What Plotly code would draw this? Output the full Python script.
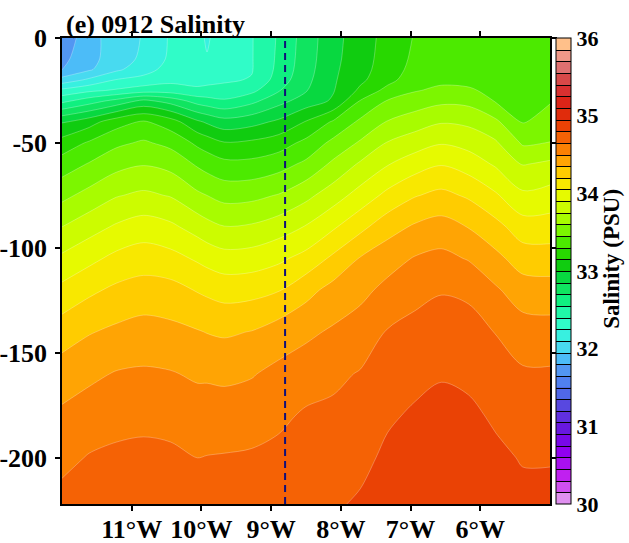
import plotly.graph_objects as go

# ---------------- data ----------------
lon = [-12.0, -11.61, -11.22, -10.83, -10.44, -10.06, -9.92, -9.67, -9.28, -8.89, -8.5,
       -8.11, -7.72, -7.33, -6.94, -6.56, -6.17, -5.78, -5.39, -5.0]
depth = [0, -10, -15, -20, -25, -30, -40, -50, -60, -75, -90, -105, -120,
         -140, -160, -180, -200, -222]

# salinity (PSU); one row per depth level, one value per longitude
salinity = [
    [31.70, 31.89, 32.03, 32.11, 32.27, 32.30, 32.23, 32.34, 32.39, 32.57, 32.77, 32.95, 33.08, 33.20, 33.31, 33.35, 33.37, 33.37, 33.36, 33.36],
    [31.76, 31.90, 32.03, 32.13, 32.28, 32.31, 32.26, 32.35, 32.39, 32.58, 32.78, 32.96, 33.09, 33.21, 33.33, 33.37, 33.38, 33.38, 33.37, 33.37],
    [31.79, 31.93, 32.07, 32.19, 32.31, 32.32, 32.34, 32.36, 32.39, 32.59, 32.79, 32.97, 33.10, 33.22, 33.35, 33.39, 33.40, 33.39, 33.38, 33.38],
    [32.01, 32.13, 32.26, 32.30, 32.36, 32.35, 32.36, 32.38, 32.41, 32.62, 32.81, 32.98, 33.12, 33.25, 33.39, 33.42, 33.43, 33.41, 33.39, 33.40],
    [32.29, 32.37, 32.42, 32.48, 32.48, 32.43, 32.44, 32.45, 32.51, 32.69, 32.84, 32.99, 33.18, 33.35, 33.44, 33.48, 33.46, 33.43, 33.40, 33.42],
    [32.51, 32.63, 32.75, 32.89, 32.79, 32.64, 32.61, 32.57, 32.66, 32.80, 32.92, 33.02, 33.31, 33.46, 33.52, 33.57, 33.56, 33.44, 33.42, 33.44],
    [32.99, 33.09, 33.24, 33.32, 33.22, 33.03, 32.98, 32.91, 32.95, 33.03, 33.16, 33.32, 33.48, 33.61, 33.68, 33.74, 33.72, 33.63, 33.44, 33.51],
    [33.21, 33.32, 33.42, 33.47, 33.41, 33.27, 33.23, 33.16, 33.18, 33.23, 33.34, 33.49, 33.62, 33.76, 33.83, 33.89, 33.85, 33.77, 33.58, 33.605],
    [33.37, 33.46, 33.55, 33.59, 33.55, 33.43, 33.39, 33.34, 33.34, 33.39, 33.48, 33.63, 33.77, 33.89, 33.98, 34.04, 33.98, 33.88, 33.74, 33.78],
    [33.56, 33.65, 33.74, 33.78, 33.74, 33.63, 33.60, 33.55, 33.56, 33.61, 33.71, 33.83, 33.96, 34.09, 34.19, 34.24, 34.18, 34.07, 33.93, 33.96],
    [33.75, 33.84, 33.92, 33.97, 33.93, 33.84, 33.80, 33.755, 33.77, 33.83, 33.91, 34.03, 34.16, 34.29, 34.37, 34.41, 34.345, 34.25, 34.12, 34.12],
    [33.93, 34.01, 34.09, 34.13, 34.10, 34.03, 34.00, 33.96, 33.97, 34.02, 34.10, 34.23, 34.36, 34.44, 34.51, 34.54, 34.49, 34.39, 34.28, 34.27],
    [34.09, 34.17, 34.23, 34.26, 34.25, 34.19, 34.17, 34.14, 34.15, 34.19, 34.30, 34.40, 34.46, 34.54, 34.60, 34.64, 34.62, 34.52, 34.42, 34.41],
    [34.28, 34.34, 34.38, 34.41, 34.39, 34.36, 34.345, 34.33, 34.355, 34.42, 34.47, 34.52, 34.57, 34.66, 34.70, 34.72, 34.71, 34.645, 34.57, 34.56],
    [34.42, 34.47, 34.51, 34.52, 34.51, 34.48, 34.48, 34.47, 34.49, 34.54, 34.58, 34.62, 34.66, 34.72, 34.76, 34.79, 34.77, 34.72, 34.67, 34.67],
    [34.53, 34.57, 34.60, 34.61, 34.60, 34.57, 34.57, 34.57, 34.58, 34.62, 34.67, 34.68, 34.71, 34.78, 34.82, 34.84, 34.83, 34.78, 34.73, 34.73],
    [34.61, 34.66, 34.68, 34.69, 34.68, 34.65, 34.655, 34.66, 34.67, 34.69, 34.73, 34.73, 34.76, 34.83, 34.86, 34.88, 34.87, 34.83, 34.79, 34.79],
    [34.70, 34.74, 34.77, 34.78, 34.76, 34.74, 34.74, 34.74, 34.75, 34.76, 34.78, 34.78, 34.82, 34.86, 34.89, 34.92, 34.91, 34.88, 34.84, 34.84],
]

section_lon = -8.8          # dashed vertical reference line
x_tickvals = [-11, -10, -9, -8, -7, -6]
x_ticktext = ["11°W", "10°W", "9°W", "8°W", "7°W", "6°W"]
y_tickvals = [0, -50, -100, -150, -200]
y_ticktext = ["0", "-50", "-100", "-150", "-200"]
cb_range = [30, 36]
cb_tickvals = [30, 31, 32, 33, 34, 35, 36]

# ---------------- style ----------------
palette = [
    "#E090F0", "#D050F0", "#C020F0", "#A810F0", "#9000F0", "#7808E8", "#6818E0", "#6030E0",
    "#5848E0", "#5068E8", "#5080F0", "#5296F2", "#4CBCF8", "#48DAF0", "#38F0E0", "#30FCC8",
    "#20F8A8", "#10F080", "#10E460", "#08D840", "#10CC10", "#28D800", "#4CEA00", "#7CF600",
    "#A8FC00", "#CCFC00", "#E6FA00", "#F8E800", "#FFCC00", "#FFA404", "#FB8003", "#F56205",
    "#EA4205", "#E02C0C", "#DC2418", "#D83030", "#D84848", "#E07070", "#F09888", "#FFC08A",
]
n = len(palette)
# colourscale for the filled contours (fills are sampled at band centres)
fill_scale = []
for k, c in enumerate(palette):
    lo = 0.0 if k == 0 else (k - 0.25) / (n - 1)
    hi = 1.0 if k == n - 1 else (k + 0.75) / (n - 1)
    fill_scale.append([lo, c])
    fill_scale.append([hi, c])
# stepped colourscale over [30, 36] for the colour bar
bar_scale = []
for k, c in enumerate(palette):
    bar_scale.append([k / n, c])
    bar_scale.append([(k + 1) / n, c])

contours = dict(start=30.15, end=35.85, size=0.15, coloring="fill", showlines=True)
FONT = "Liberation Serif"

fig = go.Figure()
fig.add_trace(go.Contour(
    x=lon, y=depth, z=salinity,
    autocontour=False, contours=contours,
    colorscale=fill_scale, showscale=False,
    line=dict(color="rgba(255,255,255,0.45)", width=0.6, smoothing=0.9),
    hoverinfo="skip",
))
# trace used only to draw the discrete colour bar (lies outside the axes ranges)
fig.add_trace(go.Contour(
    x=[100, 101], y=[500, 501], z=[[30, 36], [30, 36]],
    autocontour=False,
    contours=dict(start=30.15, end=35.85, size=0.15, coloring="heatmap", showlines=True),
    colorscale=bar_scale, zmin=cb_range[0], zmax=cb_range[1], showscale=True,
    line=dict(color="black", width=1),
    hoverinfo="skip",
    colorbar=dict(
        thickness=15, thicknessmode="pixels", len=1, lenmode="fraction",
        x=1.0123, xanchor="left", y=0.5, yanchor="middle", xpad=0, ypad=0,
        outlinewidth=1, outlinecolor="black",
        tickvals=cb_tickvals, ticks="",
        tickfont=dict(family=FONT, size=22, color="black", weight="bold"),
    ),
))

fig.add_shape(type="line", xref="x", yref="y",
              x0=section_lon, x1=section_lon, y0=depth[-1], y1=depth[0],
              line=dict(color="#10107A", width=2, dash="7px,5px"))

fig.add_annotation(text="(e) 0912 Salinity", xref="paper", yref="paper",
                   x=0.004, y=1.028, xanchor="left", yanchor="middle", showarrow=False,
                   font=dict(family=FONT, size=26, color="black", weight="bold"))
fig.add_annotation(text="Salinity (PSU)", xref="paper", yref="paper",
                   x=1.127, y=0.526, xanchor="center", yanchor="middle", showarrow=False,
                   textangle=-90,
                   font=dict(family=FONT, size=23, color="black", weight="bold"))

axis_common = dict(showline=True, linecolor="black", linewidth=1.5, mirror="ticks",
                   ticks="outside", ticklen=5, tickwidth=1.5, tickcolor="black",
                   showgrid=False, zeroline=False,
                   tickfont=dict(family=FONT, size=26, color="black", weight="bold"))
fig.update_xaxes(range=[lon[0], lon[-1]], tickvals=x_tickvals, ticktext=x_ticktext,
                 ticklabelstandoff=-4, **axis_common)
fig.update_yaxes(range=[depth[-1], depth[0]], tickvals=y_tickvals, ticktext=y_ticktext,
                 ticklabelstandoff=3, **axis_common)

fig.update_layout(width=629, height=543,
                  margin=dict(l=62, r=79, t=38, b=39, autoexpand=False),
                  paper_bgcolor="white", plot_bgcolor="white", showlegend=False)

fig.write_html("out.html")
